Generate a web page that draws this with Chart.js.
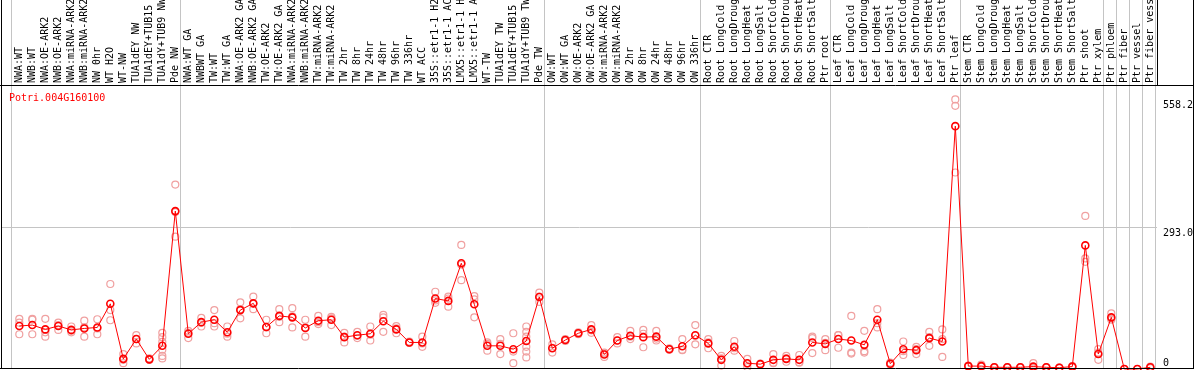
<!DOCTYPE html>
<html>
<head>
<meta charset="utf-8">
<title>Potri.004G160100</title>
<script src="https://cdn.jsdelivr.net/npm/chart.js@4.4.1/dist/chart.umd.min.js"></script>
<style>
  html, body { margin: 0; padding: 0; background: #fff; }
  #chartContainer { width: 1194px; height: 370px; }
</style>
</head>
<body>
<div id="chartContainer"><canvas id="myChart" width="1194" height="370"></canvas></div>
<script>
// gene shown in the corner of the plot
const geneName = 'Potri.004G160100';

// sample names, as far as they are visible at the top of the picture
const categories = [
    'NWA:WT', 'NWB:WT', 'NWA:OE-ARK2', 'NWB:OE-ARK2', 'NWA:miRNA-ARK2', 'NWB:miRNA-ARK2',
    'NW 0hr', 'WT H2O', 'WT-NW', 'TUA1dEY NW', 'TUA1dEY+TUB15', 'TUA1dY+TUB9 NW', 'Pde NW',
    'NWA:WT GA', 'NWBWT GA', 'TW:WT', 'TW:WT GA', 'NWA:OE-ARK2 GA', 'NWB:OE-ARK2 GA',
    'TW:OE-ARK2', 'TW:OE-ARK2 GA', 'NWA:miRNA-ARK2', 'NWB:miRNA-ARK2', 'TW:miRNA-ARK2', 'TW:miRNA-ARK2',
    'TW 2hr', 'TW 8hr', 'TW 24hr', 'TW 48hr', 'TW 96hr', 'TW 336hr', 'WT ACC',
    '35S::etr1-1 H2', '35S::etr1-1 AC', 'LMX5::etr1-1 H', 'LMX5::etr1-1 A',
    'WT-TW', 'TUA1dEY TW', 'TUA1dEY+TUB15', 'TUA1dY+TUB9 TW', 'Pde TW',
    'OW:WT', 'OW:WT GA', 'OW:OE-ARK2', 'OW:OE-ARK2 GA', 'OW:miRNA-ARK2', 'OW:miRNA-ARK2',
    'OW 2hr', 'OW 8hr', 'OW 24hr', 'OW 48hr', 'OW 96hr', 'OW 336hr',
    'Root CTR', 'Root LongCold', 'Root LongDroug', 'Root LongHeat', 'Root LongSalt',
    'Root ShortCold', 'Root ShortDrou', 'Root ShortHeat', 'Root ShortSalt', 'Ptr root',
    'Leaf CTR', 'Leaf LongCold', 'Leaf LongDroug', 'Leaf LongHeat', 'Leaf LongSalt',
    'Leaf ShortCold', 'Leaf ShortDrou', 'Leaf ShortHeat', 'Leaf ShortSalt', 'Ptr leaf',
    'Stem CTR', 'Stem LongCold', 'Stem LongDroug', 'Stem LongHeat', 'Stem LongSalt',
    'Stem ShortCold', 'Stem ShortDrou', 'Stem ShortHeat', 'Stem ShortSalt', 'Ptr shoot',
    'Ptr xylem', 'Ptr phloem', 'Ptr fiber', 'Ptr vessel', 'Ptr fiber vess'
];

// mean expression per sample (red line)
const meanValues = [
    89, 91, 82, 89, 81, 84, 86, 135, 21, 62, 20, 48, 327,
    73, 97, 102, 76, 122, 136, 87, 110, 107, 85, 100, 102, 66, 70, 73, 99, 82, 55, 55,
    146, 141, 219, 134, 48, 48, 41, 58, 149,
    43, 60, 74, 82, 30, 59, 69, 66, 67, 41, 47, 70,
    53, 19, 46, 12, 10, 19, 21, 19, 55, 52,
    62, 59, 50, 102, 11, 41, 39, 64, 57, 503,
    6, 6, 3.5, 3.5, 3.5, 5, 3.5, 2.7, 5, 256,
    31, 107, 0, 0, 3.5
];

// single replicates per sample (pale circles)
const replicateValues = [
    [104, 96, 72], [104, 102, 72], [104, 67, 76], [96, 81, 91], [88, 76, 79], [100, 67, 86],
    [103, 72, 84], [176, 122, 101], [31, 19, 12], [70, 53, 62], [22, 19, 19],
    [75, 66, 56, 40, 27, 22], [382, 274, 325],
    [79, 64, 75], [106, 88, 96], [122, 88, 95], [88, 67, 73], [138, 105, 124], [150, 124, 135],
    [102, 74, 86], [124, 97, 108], [126, 86, 109], [102, 67, 86], [110, 93, 97], [108, 91, 105],
    [75, 55, 67], [77, 64, 69], [88, 59, 71], [112, 77, 107], [89, 74, 84], [57, 55, 54],
    [67, 46, 53], [160, 137, 142], [150, 146, 129], [257, 184, 216], [151, 107, 144],
    [55, 38, 52], [62, 31, 52], [74, 36, 12], [88, 77, 67, 46, 36, 24], [158, 139, 150],
    [51, 34, 44], [62, 60, 58], [76, 74, 72], [91, 75, 80], [34, 25, 32], [66, 53, 59],
    [79, 62, 67], [81, 45, 73], [79, 59, 63], [43, 41, 40], [62, 39, 40], [91, 51, 69],
    [62, 43, 55], [27, 7, 22], [58, 38, 43], [21, 4, 11], [11, 10, 10], [31, 12, 13],
    [27, 15, 22], [29, 13, 14], [67, 33, 64], [62, 39, 54],
    [70, 44, 70], [110, 34, 32], [79, 34, 37], [124, 86, 95], [13, 11, 9], [57, 29, 37],
    [46, 31, 41], [77, 48, 66], [82, 25, 62], [558.2, 545, 407],
    [7, 6, 6], [9, 5, 5], [4, 3, 3], [4, 3, 3], [3, 4, 3], [12, 2, 1], [4, 3, 3], [3, 3, 2],
    [6, 4, 4], [317, 229, 222],
    [41, 19, 34], [115, 104, 102], [0, 0, 0], [0, 0, 0], [5, 3, 2]
];

// last sample of each tissue block (grey separators)
const groupEnds = [12, 40, 52, 62, 72, 83, 84, 85, 86, 87];

// right axis
const yTicks = [0, 293.0, 558.2];
const yMax = 586.1;

const monoFont = { family: "'DejaVu Sans Mono', monospace", size: 10 };

const framePlugin = {
    id: 'frame',
    beforeDatasetsDraw(chart) {
        const ctx = chart.ctx;
        const x = chart.scales.x;
        const area = chart.chartArea;
        ctx.save();
        ctx.strokeStyle = '#c4c4c4';
        ctx.lineWidth = 1;
        const seps = [-0.65].concat(groupEnds.map(g => g + 0.37));
        seps.forEach(function(s) {
            const px = Math.round(x.getPixelForValue(s)) + 0.5;
            ctx.beginPath();
            ctx.moveTo(px, 0);
            ctx.lineTo(px, area.bottom);
            ctx.stroke();
        });
        ctx.restore();
    },
    afterDraw(chart) {
        const ctx = chart.ctx;
        const area = chart.chartArea;
        const w = chart.width;
        ctx.save();
        ctx.strokeStyle = '#000';
        ctx.lineWidth = 1;
        ctx.beginPath();
        ctx.moveTo(0, area.top - 0.5); ctx.lineTo(w, area.top - 0.5);
        ctx.moveTo(0, area.bottom - 0.5); ctx.lineTo(w, area.bottom - 0.5);
        ctx.moveTo(area.left - 0.5, 0); ctx.lineTo(area.left - 0.5, area.bottom);
        ctx.moveTo(w - 0.5, 0); ctx.lineTo(w - 0.5, area.bottom);
        ctx.moveTo(area.right + 0.5, 0); ctx.lineTo(area.right + 0.5, area.top);
        ctx.stroke();

        ctx.fillStyle = '#ff0000';
        ctx.font = "10px 'DejaVu Sans Mono', monospace";
        ctx.textBaseline = 'alphabetic';
        ctx.fillText(geneName, area.left + 7, area.top + 15);
        ctx.restore();
    }
};

const meanPoints = meanValues.map((v, i) => ({ x: i, y: v }));
const repPoints = [];
replicateValues.forEach(function(reps, i) {
    reps.forEach(function(v) { repPoints.push({ x: i, y: v }); });
});

const ctx = document.getElementById('myChart').getContext('2d');
const myChart = new Chart(ctx, {
    type: 'line',
    data: {
        datasets: [{
            label: geneName,
            data: meanPoints,
            borderColor: '#ff0000',
            borderWidth: 1,
            pointRadius: 3.5,
            pointBorderWidth: 1.6,
            pointBorderColor: '#ff0000',
            pointBackgroundColor: 'rgba(0,0,0,0)',
            tension: 0,
            clip: false
        }, {
            label: 'replicates',
            data: repPoints,
            showLine: false,
            pointRadius: 3.5,
            pointBorderWidth: 1.2,
            pointBorderColor: '#f0a0a0',
            pointBackgroundColor: 'rgba(0,0,0,0)',
            clip: false
        }]
    },
    options: {
        responsive: false,
        animation: false,
        layout: { autoPadding: false, padding: { left: 2, right: 0, top: 0, bottom: 1 } },
        plugins: {
            legend: { display: false },
            tooltip: { enabled: false }
        },
        scales: {
            x: {
                type: 'linear',
                position: 'top',
                min: -1.331,
                max: 87.515,
                grid: { display: false, drawTicks: false },
                border: { display: false },
                afterBuildTicks: axis => { axis.ticks = categories.map((c, i) => ({ value: i })); },
                afterFit: axis => {
                    axis.height = 86;
                    axis.paddingLeft = 0;
                    axis.paddingRight = 0;
                },
                ticks: {
                    autoSkip: false,
                    minRotation: 90,
                    maxRotation: 90,
                    padding: 3,
                    labelOffset: 12,
                    color: '#000',
                    font: monoFont,
                    callback: v => categories[v] || ''
                }
            },
            y: {
                position: 'right',
                min: 0,
                max: yMax,
                border: { display: false },
                grid: {
                    drawTicks: false,
                    color: c => (c.tick && c.tick.value === 293.0) ? '#c4c4c4' : 'rgba(0,0,0,0)'
                },
                afterBuildTicks: axis => { axis.ticks = yTicks.map(v => ({ value: v })); },
                afterFit: axis => {
                    axis.width = 37;
                    axis.paddingTop = 0;
                    axis.paddingBottom = 0;
                },
                ticks: {
                    padding: 6,
                    labelOffset: 6,
                    color: '#000',
                    font: monoFont,
                    callback: v => v === 0 ? ['0', '', ''] : v.toFixed(1)
                }
            }
        }
    },
    plugins: [framePlugin]
});
</script>
</body>
</html>
